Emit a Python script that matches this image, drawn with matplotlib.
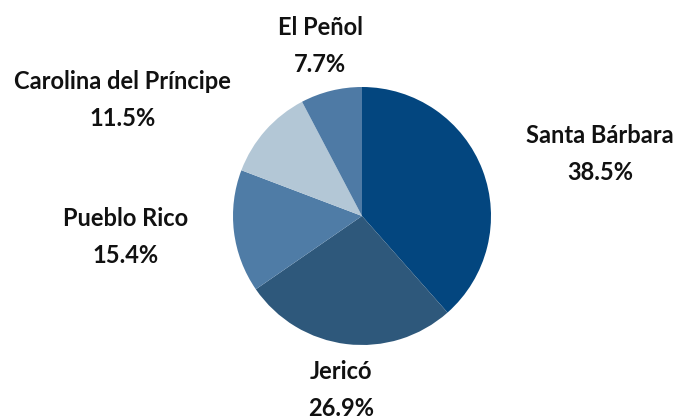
import numpy as np
import matplotlib.pyplot as plt

plt.rcParams['font.family'] = ['Lato', 'DejaVu Sans']

# municipality share of records
municipios = ['Santa Bárbara', 'Jericó', 'Pueblo Rico', 'Carolina del Príncipe', 'El Peñol']
conteos = [10, 7, 4, 3, 2]
colores = ['#03467f', '#2e587b', '#4f7ca6', '#b3c7d6', '#4e7aa5']

total = sum(conteos)
etiquetas = ["{}\n{:.1f}%".format(m, 100.0 * c / total) for m, c in zip(municipios, conteos)]

fig = plt.figure(figsize=(6.78, 4.2), dpi=100)
ax = fig.add_axes([0, 0, 1, 1])

wedges, texts = ax.pie(conteos, labels=etiquetas, colors=colores, startangle=90,
                       counterclock=False, labeldistance=1.36,
                       wedgeprops=dict(linewidth=0),
                       textprops=dict(fontsize=17, fontweight='bold',
                                      color='#111111', linespacing=1.75,
                                      multialignment='center'))

for w, t in zip(wedges, texts):
    ang = np.deg2rad((w.theta1 + w.theta2) / 2)
    if abs(np.cos(ang)) < 0.3:
        t.set_ha('center')

# 1 data unit = 129 px, pie centre at (362, 216) px from top-left
ax.set_xlim(-362 / 129, 316 / 129)
ax.set_ylim(-204 / 129, 216 / 129)
ax.set_aspect('equal')
ax.axis('off')

fig.savefig('out.png', dpi=100)
